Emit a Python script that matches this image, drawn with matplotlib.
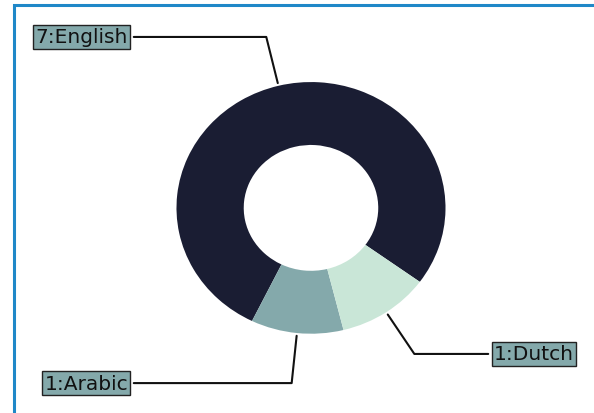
import numpy as np
import matplotlib
matplotlib.use("Agg")
import matplotlib.pyplot as plt
from matplotlib.patches import Rectangle

# Language counts
languages = ["English", "Arabic", "Dutch"]
counts = [7, 1, 1]
colors = ["#1a1d33", "#84a9ab", "#c9e6d7"]
label_fc = "#84a9ab"

fig = plt.figure(figsize=(5.94, 4.14), dpi=100)
ax = fig.add_axes([0, 0, 1, 1])

wedges, _ = ax.pie(counts, colors=colors, startangle=-36, counterclock=True,
                   wedgeprops=dict(width=0.5, linewidth=0))

ax.set_aspect("auto")
ax.set_xlim(-2.312, 2.104)
ax.set_ylim(-1.630, 1.660)
ax.axis("off")

bbox_props = dict(boxstyle="square,pad=0.12", fc=label_fc, ec="#222222", lw=1.0)
for w, n, lang in zip(wedges, counts, languages):
    ang = (w.theta2 - w.theta1) / 2.0 + w.theta1
    y = np.sin(np.deg2rad(ang))
    x = np.cos(np.deg2rad(ang))
    ha = {-1: "right", 1: "left"}[int(np.sign(x))]
    conn = f"angle,angleA=0,angleB={ang}"
    ax.annotate(f"{n}:{lang}", xy=(x, y), xytext=(1.36 * np.sign(x), 1.4 * y),
                ha=ha, va="center", fontsize=14.5, color="#111111",
                bbox=bbox_props, zorder=0,
                arrowprops=dict(arrowstyle="-", connectionstyle=conn,
                                color="#111111", lw=1.5))

# outer frame line
fig.patches.append(Rectangle((13.5 / 594, -0.1), 1.2, (414 - 5.5) / 414 + 0.1,
                             transform=fig.transFigure, fill=False,
                             ec="#1f88c8", lw=2.2, zorder=10))

fig.savefig("out.png", dpi=100)
